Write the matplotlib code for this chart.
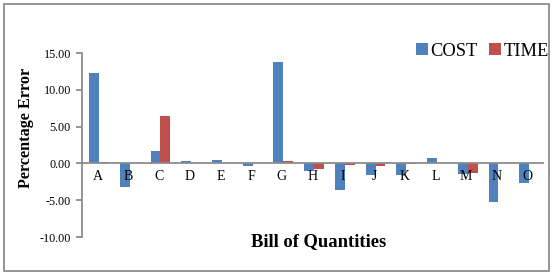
import numpy as np
import matplotlib.pyplot as plt
from matplotlib.patches import Rectangle

categories = ['A', 'B', 'C', 'D', 'E', 'F', 'G', 'H', 'I', 'J', 'K', 'L', 'M', 'N', 'O']
cost = [12.3, -3.2, 1.7, 0.3, 0.5, -0.3, 13.8, -1.0, -3.6, -1.6, -1.6, 0.7, -1.4, -5.2, -2.7]
time = [0.25, 0.0, 6.4, 0.0, 0.0, 0.0, 0.3, -0.7, -0.2, -0.3, -0.1, 0.0, -1.3, 0.0, 0.0]

plt.rcParams['font.family'] = ['Liberation Serif', 'DejaVu Serif']

fig = plt.figure(figsize=(5.55, 2.73), dpi=100)
ax = fig.add_axes([82 / 555, 36 / 273, 461 / 555, 184 / 273])

x = np.arange(len(categories))
w = 0.32
shift = 0.05
ax.bar(x - w / 2 + shift, cost, w, color='#4F81BD', label='COST')
ax.bar(x + w / 2 + shift, time, w, color='#C0504D', label='TIME')

ax.set_xlim(-0.5, len(categories) - 0.5)
ax.set_ylim(-10, 15)
ax.set_yticks([-10, -5, 0, 5, 10, 15])
ax.set_yticklabels([f'{v:.2f}' for v in [-10, -5, 0, 5, 10, 15]], fontsize=8.7)
ax.set_xticks(x)
ax.set_xticklabels(categories, fontsize=10)

grey = '#8C8C8C'
for s in ['top', 'right']:
    ax.spines[s].set_visible(False)
ax.spines['bottom'].set_position(('data', 0))
ax.spines['bottom'].set_color(grey)
ax.spines['bottom'].set_linewidth(1.3)
ax.spines['left'].set_color(grey)
ax.spines['left'].set_linewidth(1.3)
ax.tick_params(axis='x', length=0, pad=5)
ax.tick_params(axis='y', length=4, color=grey, width=1.3, pad=4)

fig.text(26 / 555, 1 - 128 / 273, 'Percentage Error', rotation=90, ha='center', va='center',
         fontsize=11.7, fontweight='bold')
fig.text(319 / 555, 1 - 242 / 273, 'Bill of Quantities', ha='center', va='center',
         fontsize=13.4, fontweight='bold')

fig.legend(loc='center right', bbox_to_anchor=(549 / 555, 1 - 51 / 273), ncol=2, frameon=False,
           borderaxespad=0, borderpad=0, fontsize=13.3, handlelength=0.65, handleheight=0.65,
           handletextpad=0.15, columnspacing=0.6)

fig.patches.append(Rectangle((4 / 555, 2 / 273), 545 / 555, 267 / 273, transform=fig.transFigure,
                             fill=False, edgecolor='#8C8C8C', linewidth=1.3))

fig.savefig('out.png', dpi=100)
